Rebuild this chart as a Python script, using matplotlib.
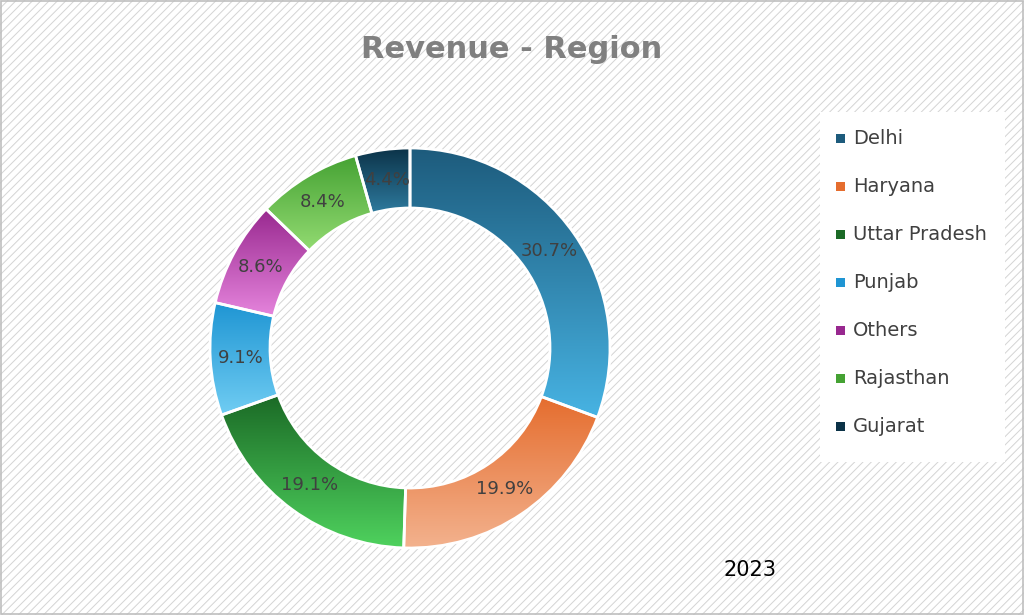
import numpy as np
import matplotlib
matplotlib.use("Agg")
import matplotlib.pyplot as plt
from matplotlib.patches import Rectangle, Wedge
from matplotlib.colors import LinearSegmentedColormap

regions = ["Delhi", "Haryana", "Uttar Pradesh", "Punjab", "Others", "Rajasthan", "Gujarat"]
shares = [30.7, 19.9, 19.1, 9.1, 8.6, 8.4, 4.4]
year = "2023"
dark = ["#1d5b7c", "#e56d2e", "#1b6a26", "#1f95d3", "#98288f", "#45a233", "#0b3247"]
light = ["#47b3e3", "#f3b28e", "#4fd25e", "#70cdf3", "#e584dc", "#93db72", "#2e7a9e"]

plt.rcParams["hatch.linewidth"] = 0.7
plt.rcParams["hatch.color"] = "#d4d4d4"
fig = plt.figure(figsize=(10.24, 6.15), dpi=100)
fig.patch.set_facecolor("white")
fig.patches.append(Rectangle((0, 0), 1, 1, transform=fig.transFigure, facecolor="white",
                             hatch="////", edgecolor="#d4d4d4", lw=0, zorder=-2))
fig.patches.append(Rectangle((0.001, 0.001), 0.998, 0.998, transform=fig.transFigure,
                             fill=False, edgecolor="#bfbfbf", lw=1.2, zorder=-1))

ax = fig.add_axes([200/1024, 57/615, 420/1024, 420/615])
ax.set_zorder(5)
ax.patch.set_visible(False)
ax.set_xlim(-1.05, 1.05); ax.set_ylim(-1.05, 1.05)
ax.set_aspect("equal"); ax.axis("off")

total = sum(shares)
ang = 90.0
width = 0.3
for i, (r, v) in enumerate(zip(regions, shares)):
    sweep = 360 * v / total
    t2, t1 = ang, ang - sweep
    th = np.radians(np.linspace(t1, t2, 50))
    ys = np.concatenate([np.sin(th), (1 - width) * np.sin(th)])
    xs = np.concatenate([np.cos(th), (1 - width) * np.cos(th)])
    cmap = LinearSegmentedColormap.from_list("g%d" % i, [light[i], dark[i]])
    grad = np.linspace(0, 1, 256).reshape(-1, 1)
    im = ax.imshow(grad, cmap=cmap, origin="lower", aspect="auto",
                   extent=[xs.min(), xs.max(), ys.min(), ys.max()], zorder=2)
    w2 = Wedge((0, 0), 1.0, t1, t2, width=width, transform=ax.transData)
    im.set_clip_path(w2)
    w = Wedge((0, 0), 1.0, t1, t2, width=width, facecolor="none", edgecolor="white", lw=2, zorder=3)
    ax.add_patch(w)
    mid = np.radians((t1 + t2) / 2)
    ax.text(0.85 * np.cos(mid), 0.85 * np.sin(mid), f"{v}%", ha="center", va="center",
            fontsize=13, color="#404040", zorder=4)
    ang = t1
ax.set_xlim(-1.05, 1.05); ax.set_ylim(-1.05, 1.05)

fig.text(0.5, 1 - 50/615, "Revenue - Region", ha="center", va="center",
         fontsize=22, fontweight="bold", color="#808080")
fig.text(750/1024, 1 - 570/615, year, ha="center", va="center", fontsize=15, color="black")

fig.patches.append(Rectangle((820/1024, 1 - 462/615), 185/1024, 350/615, transform=fig.transFigure,
                             facecolor="white", edgecolor="none", zorder=2))
for i, r in enumerate(regions):
    y = 1 - (138 + 48 * i) / 615
    fig.patches.append(Rectangle((836/1024, y - 4.5/615), 9/1024, 9/615, transform=fig.transFigure,
                                 facecolor=dark[i], edgecolor="none", zorder=3))
    fig.text(853/1024, y, r, ha="left", va="center", fontsize=14, color="#404040", zorder=4)

fig.savefig("out.png", dpi=100)
